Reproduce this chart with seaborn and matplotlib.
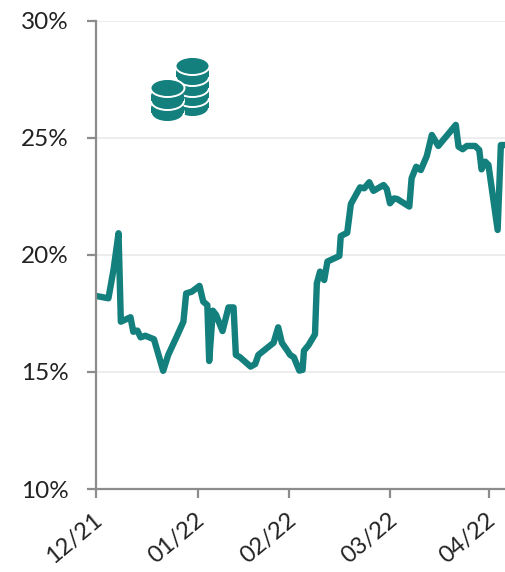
import matplotlib
matplotlib.use("Agg")
import matplotlib.pyplot as plt
import matplotlib.transforms as mtransforms
import pandas as pd
import seaborn as sns
from matplotlib.patches import Ellipse, Rectangle


# x = position en séances depuis le début de 12/21
SESSIONS = [
    0, 2.7, 3.8, 4.9, 5.4, 7.5, 8.1, 9.0, 9.7, 10.7, 12.6, 14.6, 15.7, 17.7, 19.0,
    19.6, 20.8, 22.5, 23.3, 24.2, 24.6, 25.4, 26.1, 27.5, 28.8, 29.9, 30.4, 31.3,
    33.6, 34.6, 35.3, 38.6, 39.6, 40.4, 41.5, 42.2, 43.0, 44.2, 44.9, 45.2, 46.2,
    47.6, 48.0, 48.7, 49.6, 50.3, 52.9, 53.2, 54.6, 55.4, 57.4, 58.3, 59.4, 60.3,
    62.5, 63.2, 63.9, 64.8, 65.5, 68.1, 68.6, 69.6, 70.6, 71.9, 73.0, 74.4, 78.2,
    78.8, 79.7, 80.6, 82.4, 83.3, 83.8, 84.6, 85.3, 87.3, 88.0, 88.9,
]
RATES = [
    18.25, 18.15, 19.36, 20.93, 17.15, 17.34, 16.72, 16.77, 16.48, 16.55, 16.40,
    15.05, 15.73, 16.58, 17.15, 18.36, 18.43, 18.68, 18.01, 17.86, 15.47, 17.62,
    17.44, 16.75, 17.76, 17.76, 15.73, 15.63, 15.23, 15.34, 15.73, 16.25, 16.91,
    16.25, 15.94, 15.73, 15.63, 15.06, 15.09, 15.91, 16.15, 16.61, 18.79, 19.29,
    18.93, 19.72, 19.96, 20.81, 20.95, 22.18, 22.89, 22.85, 23.11, 22.74, 22.99,
    22.82, 22.21, 22.42, 22.39, 22.07, 23.28, 23.77, 23.63, 24.23, 25.13, 24.66,
    25.56, 24.63, 24.52, 24.66, 24.66, 24.49, 23.66, 23.99, 23.85, 21.07, 24.70,
    24.70,
]
MONTH_TICKS = [0, 22.2, 42.0, 64.0, 85.4]
MONTH_LABELS = ["12/21", "01/22", "02/22", "03/22", "04/22"]
RATE_TICKS = [10, 15, 20, 25, 30]

TEAL = "#13807d"
GREY = "#8c8c8c"
WIDTH, HEIGHT = 505, 572


def draw_coins(fig) -> None:
    """Petite icône de pièces, dessinée en pixels au-dessus du graphique."""
    icon = fig.add_axes([0, 0, 1, 1], zorder=5)
    icon.set_xlim(0, WIDTH)
    icon.set_ylim(HEIGHT, 0)
    icon.axis("off")

    stacks = [
        (192.5, 66, [108, 98, 88, 77]),
        (167.5, 88, [113, 101]),
    ]
    for center_x, top_level, levels in stacks:
        for level in levels:
            icon.add_patch(Ellipse((center_x, level), 33, 18, facecolor=TEAL,
                                   edgecolor="white", linewidth=1.4))
            icon.add_patch(Rectangle((center_x - 16.5, level - 5), 33, 5,
                                     facecolor=TEAL, edgecolor="none"))
            icon.add_patch(Ellipse((center_x, level - 5), 33, 18,
                                   facecolor=TEAL, edgecolor="none"))
        icon.add_patch(Ellipse((center_x, top_level), 34, 18, facecolor=TEAL,
                               edgecolor="white", linewidth=1.4))


def main() -> None:
    sns.set_theme(style="white")
    plt.rcParams["font.family"] = ["Lato", "DejaVu Sans"]

    data = pd.DataFrame({"session": SESSIONS, "rate": RATES})

    fig = plt.figure(figsize=(WIDTH / 100, HEIGHT / 100), dpi=100)
    ax = fig.add_axes([96 / WIDTH, (HEIGHT - 489) / HEIGHT, 409 / WIDTH, 468 / HEIGHT])

    sns.lineplot(
        data=data,
        x="session",
        y="rate",
        sort=False,
        estimator=None,
        color=TEAL,
        linewidth=4.6,
        ax=ax,
    )

    ax.set_xlim(0, 88.9)
    ax.set_ylim(10, 30)
    ax.set_xlabel("")
    ax.set_ylabel("")

    ax.set_yticks(RATE_TICKS)
    ax.set_yticklabels([f"{value}%" for value in RATE_TICKS])
    ax.set_xticks(MONTH_TICKS)
    ax.set_xticklabels(MONTH_LABELS, rotation=40, ha="right", rotation_mode="anchor")

    ax.grid(axis="y", color="#ececec", linewidth=1.3)
    ax.set_axisbelow(True)
    sns.despine(ax=ax)
    for side in ["left", "bottom"]:
        ax.spines[side].set_color(GREY)
        ax.spines[side].set_linewidth(1.6)

    ax.tick_params(axis="y", direction="out", length=6.5, width=1.6, color=GREY,
                   labelsize=17.5, labelcolor="#222222", pad=13, left=True)
    ax.tick_params(axis="x", direction="out", length=6.5, width=1.6, color=GREY,
                   labelsize=17, labelcolor="#222222", pad=8, bottom=True)

    # décale un peu les dates vers la gauche
    shift = mtransforms.ScaledTranslation(-3 / 100, 0, fig.dpi_scale_trans)
    for label in ax.get_xticklabels():
        label.set_transform(label.get_transform() + shift)

    draw_coins(fig)

    fig.savefig("out.png", dpi=100)
    plt.close(fig)


if __name__ == "__main__":
    main()
